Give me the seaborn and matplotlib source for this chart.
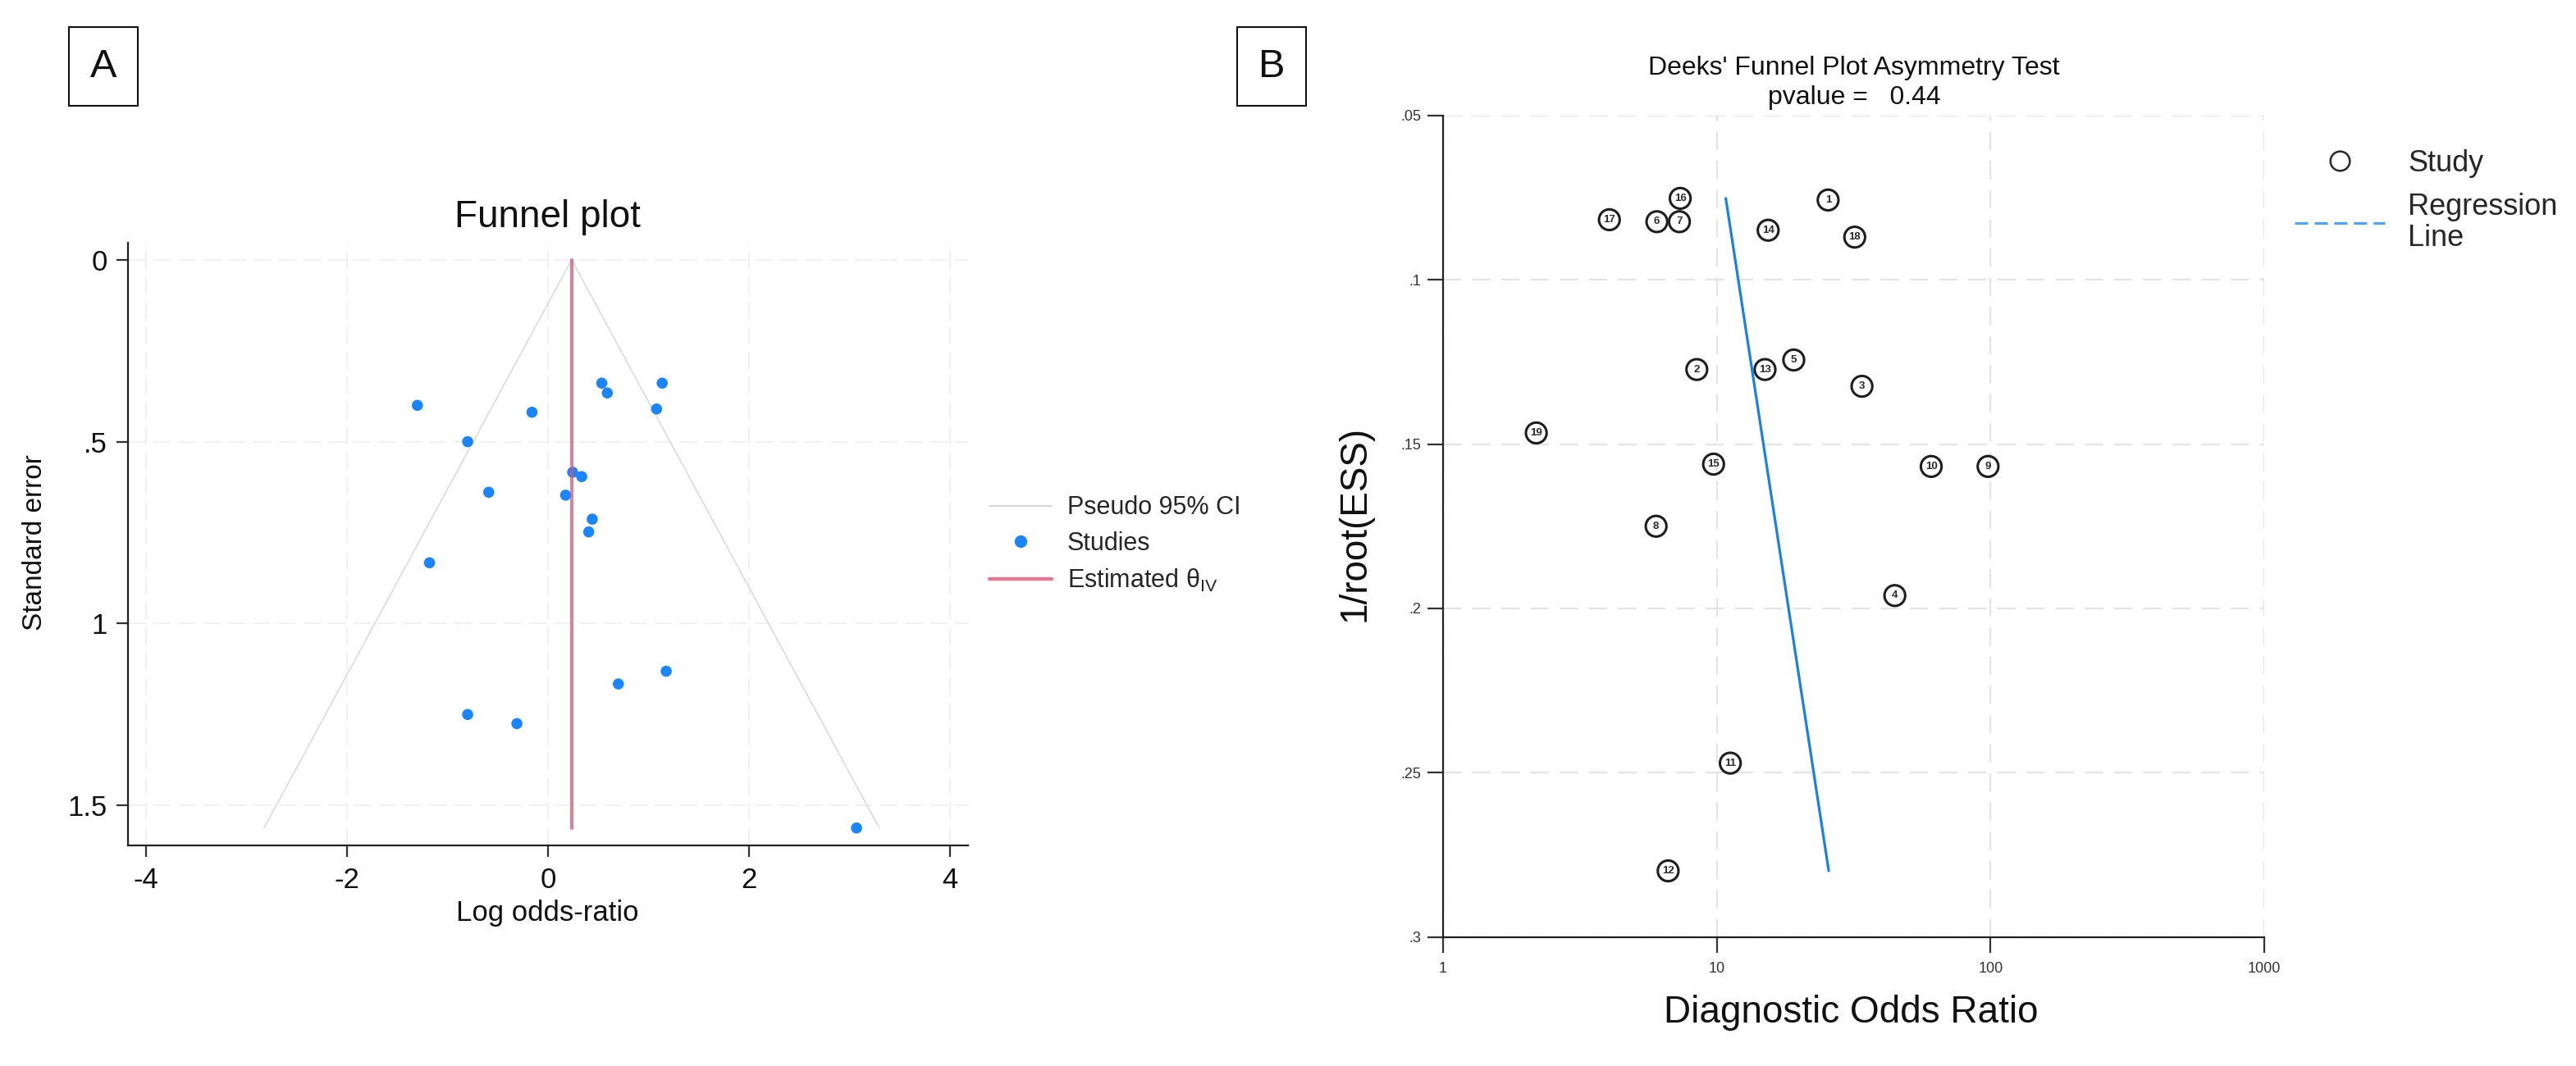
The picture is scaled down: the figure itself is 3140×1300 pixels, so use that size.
import numpy as np
import matplotlib
matplotlib.use("Agg")
import matplotlib.pyplot as plt
import seaborn as sns
from matplotlib.lines import Line2D
from matplotlib.patches import Rectangle

# ---- data ----
# panel A: funnel plot (log odds-ratio vs standard error)
log_or = [-1.30, -0.16, -0.80, 0.535, 0.59, 1.136, 1.08, 0.245, 0.335, -0.59,
          0.175, 0.44, 0.405, -1.18, 1.176, 0.70, -0.80, -0.31, 3.07]
std_err = [0.400, 0.419, 0.500, 0.339, 0.366, 0.339, 0.410, 0.584, 0.596, 0.639,
           0.647, 0.713, 0.748, 0.833, 1.131, 1.166, 1.250, 1.275, 1.562]
theta_iv = 0.235

# panel B: Deeks' funnel plot (diagnostic odds ratio vs 1/root(ESS))
study_id = list(range(1, 20))
dor = [25.5, 8.45, 33.9, 44.7, 19.1, 6.04, 7.3, 6.0, 97.9, 60.7,
       11.2, 6.64, 15.0, 15.4, 9.73, 7.35, 4.05, 31.9, 2.19]
inv_root_ess = [0.0757, 0.1273, 0.1324, 0.1961, 0.1244, 0.0823, 0.0823, 0.1750, 0.1568, 0.1568,
                0.2471, 0.2799, 0.1273, 0.0849, 0.1561, 0.0752, 0.0817, 0.0870, 0.1466]
reg_intercept = 2.06   # ln(DOR) = a + b * 1/root(ESS)
reg_slope = 4.23
pvalue = 0.44

sns.set_theme(style="white")
plt.rcParams["font.family"] = ["Liberation Sans", "DejaVu Sans"]

fig = plt.figure(figsize=(31.4, 13), dpi=100)
axA = fig.add_axes([0.0497, 0.2069, 0.3261, 0.5654])
axB = fig.add_axes([0.5602, 0.1211, 0.3188, 0.7705])

blue = "#1a85ff"
pink = "#d0587a"
grey_funnel = "#d9d9d9"
txt = "#111111"

# ---------------- panel A ----------------
se_span = np.array([0.0, max(std_err)])
sns.lineplot(x=theta_iv - 1.96 * se_span, y=se_span, ax=axA, sort=False,
             estimator=None, color=grey_funnel, lw=1.1, zorder=1)
sns.lineplot(x=theta_iv + 1.96 * se_span, y=se_span, ax=axA, sort=False,
             estimator=None, color=grey_funnel, lw=1.1, zorder=1)
sns.scatterplot(x=log_or, y=std_err, ax=axA, color=blue, s=95,
                edgecolor="none", zorder=2, legend=False)
axA.plot([theta_iv, theta_iv], se_span, color=pink, lw=3, alpha=0.75, zorder=3)

axA.set_xlim(-4.18, 4.18)
axA.set_ylim(1.61, -0.047)
axA.set_xticks([-4, -2, 0, 2, 4])
axA.set_xticklabels(["-4", "-2", "0", "2", "4"])
axA.set_yticks([0, 0.5, 1, 1.5])
axA.set_yticklabels(["0", ".5", "1", "1.5"])
axA.grid(True, color="#ededed", lw=1.1, linestyle=(0, (14, 6)))
axA.tick_params(axis="both", labelsize=25, length=10, width=1.6,
                color="#333333", labelcolor=txt, direction="out", pad=8)
axA.tick_params(axis="x", pad=9)
axA.tick_params(bottom=True, left=True)
for s in ["top", "right"]:
    axA.spines[s].set_visible(False)
for s in ["left", "bottom"]:
    axA.spines[s].set_color("#222222")
    axA.spines[s].set_linewidth(1.6)
axA.set_xlabel("")
axA.set_ylabel("")

fig.text(667 / 3140, 1 - 265 / 1300, "Funnel plot", ha="center", va="center",
         fontsize=33, color=txt)
fig.text(667 / 3140, 1 - 1113 / 1300, "Log odds-ratio", ha="center", va="center",
         fontsize=25, color=txt)
fig.text(43 / 3140, 1 - 662 / 1300, "Standard error", ha="center", va="center",
         rotation=90, fontsize=24, color=txt)

handlesA = [
    Line2D([], [], color=grey_funnel, lw=1.6),
    Line2D([], [], color=blue, marker="o", ls="none", markersize=10),
    Line2D([], [], color="#e27a95", lw=3.2),
]
labelsA = ["Pseudo 95% CI", "Studies", r"Estimated θ$_{\mathregular{IV}}$"]
fig.legend(handlesA, labelsA, loc="center left", bbox_to_anchor=(1206 / 3140, 1 - 664 / 1300),
           frameon=False, fontsize=22, handlelength=2.5, handletextpad=0.6,
           labelspacing=0.45, borderpad=0, borderaxespad=0)

# ---------------- panel B ----------------
y_span = np.array([min(inv_root_ess), max(inv_root_ess)])
sns.lineplot(x=np.exp(reg_intercept + reg_slope * y_span), y=y_span, ax=axB,
             sort=False, estimator=None, color="#1b80e4", lw=2.3, zorder=2)
sns.scatterplot(x=dor, y=inv_root_ess, ax=axB, marker="o", s=330,
                facecolor="none", edgecolor="#1e1e1e", linewidth=2.2,
                zorder=3, legend=False)
for sid, xv, yv in zip(study_id, dor, inv_root_ess):
    axB.text(xv, yv, str(sid), ha="center", va="center", fontsize=9.5,
             fontweight="bold", color="#2a2a2a", zorder=4)

axB.set_xscale("log")
axB.set_xlim(1, 1000)
axB.set_ylim(0.3, 0.05)
axB.set_xticks([1, 10, 100, 1000])
axB.set_xticklabels(["1", "10", "100", "1000"])
axB.xaxis.set_minor_locator(matplotlib.ticker.NullLocator())
axB.set_yticks([0.05, 0.1, 0.15, 0.2, 0.25, 0.3])
axB.set_yticklabels([".05", ".1", ".15", ".2", ".25", ".3"])
axB.grid(True, color="#e4e4e4", lw=1.6, linestyle=(0, (10, 6)))
axB.tick_params(axis="both", labelsize=13, length=14, width=1.6,
                color="#333333", labelcolor="#333333", direction="out", pad=5)
axB.tick_params(axis="x", pad=8)
axB.tick_params(bottom=True, left=True)
for s in ["top", "right"]:
    axB.spines[s].set_visible(False)
for s in ["left", "bottom"]:
    axB.spines[s].set_color("#222222")
    axB.spines[s].set_linewidth(1.6)
axB.set_xlabel("")
axB.set_ylabel("")

fig.text(2260 / 3140, 1 - 83 / 1300, "Deeks' Funnel Plot Asymmetry Test", ha="center",
         va="center", fontsize=23, color=txt)
fig.text(2260 / 3140, 1 - 119 / 1300, f"pvalue =   {pvalue:.2f}", ha="center",
         va="center", fontsize=23, color=txt)
fig.text(2256 / 3140, 1 - 1235 / 1300, "Diagnostic Odds Ratio", ha="center", va="center",
         fontsize=33, color=txt)
fig.text(1651 / 3140, 1 - 638 / 1300, "1/root(ESS)", ha="center", va="center",
         rotation=90, fontsize=33, color=txt)

handlesB = [
    Line2D([], [], marker="o", ls="none", markersize=17, markerfacecolor="none",
           markeredgecolor="#2a2a2a", markeredgewidth=1.8),
    Line2D([], [], color="#4da3ff", lw=2.3, linestyle=(0, (5, 2.5))),
]
legB = fig.legend(handlesB, ["Study", "Regression\nLine"], loc="upper left",
                  bbox_to_anchor=(2797 / 3140, 1 - 182 / 1300), frameon=False,
                  fontsize=26, handlelength=3.05, handletextpad=0.78,
                  labelspacing=0.5, borderpad=0, borderaxespad=0)
for t in legB.get_texts():
    t.set_linespacing(1.1)

# ---------------- panel letters ----------------
for x0, letter in [(84, "A"), (1508, "B")]:
    fig.patches.append(Rectangle((x0 / 3140, 1 - 129 / 1300), 84 / 3140, 96 / 1300,
                                 transform=fig.transFigure, fill=False,
                                 edgecolor="#111111", lw=1.5))
    fig.text((x0 + 42) / 3140, 1 - 81 / 1300, letter, ha="center", va="center",
             fontsize=35, color=txt)

fig.savefig("out.png", dpi=100)
